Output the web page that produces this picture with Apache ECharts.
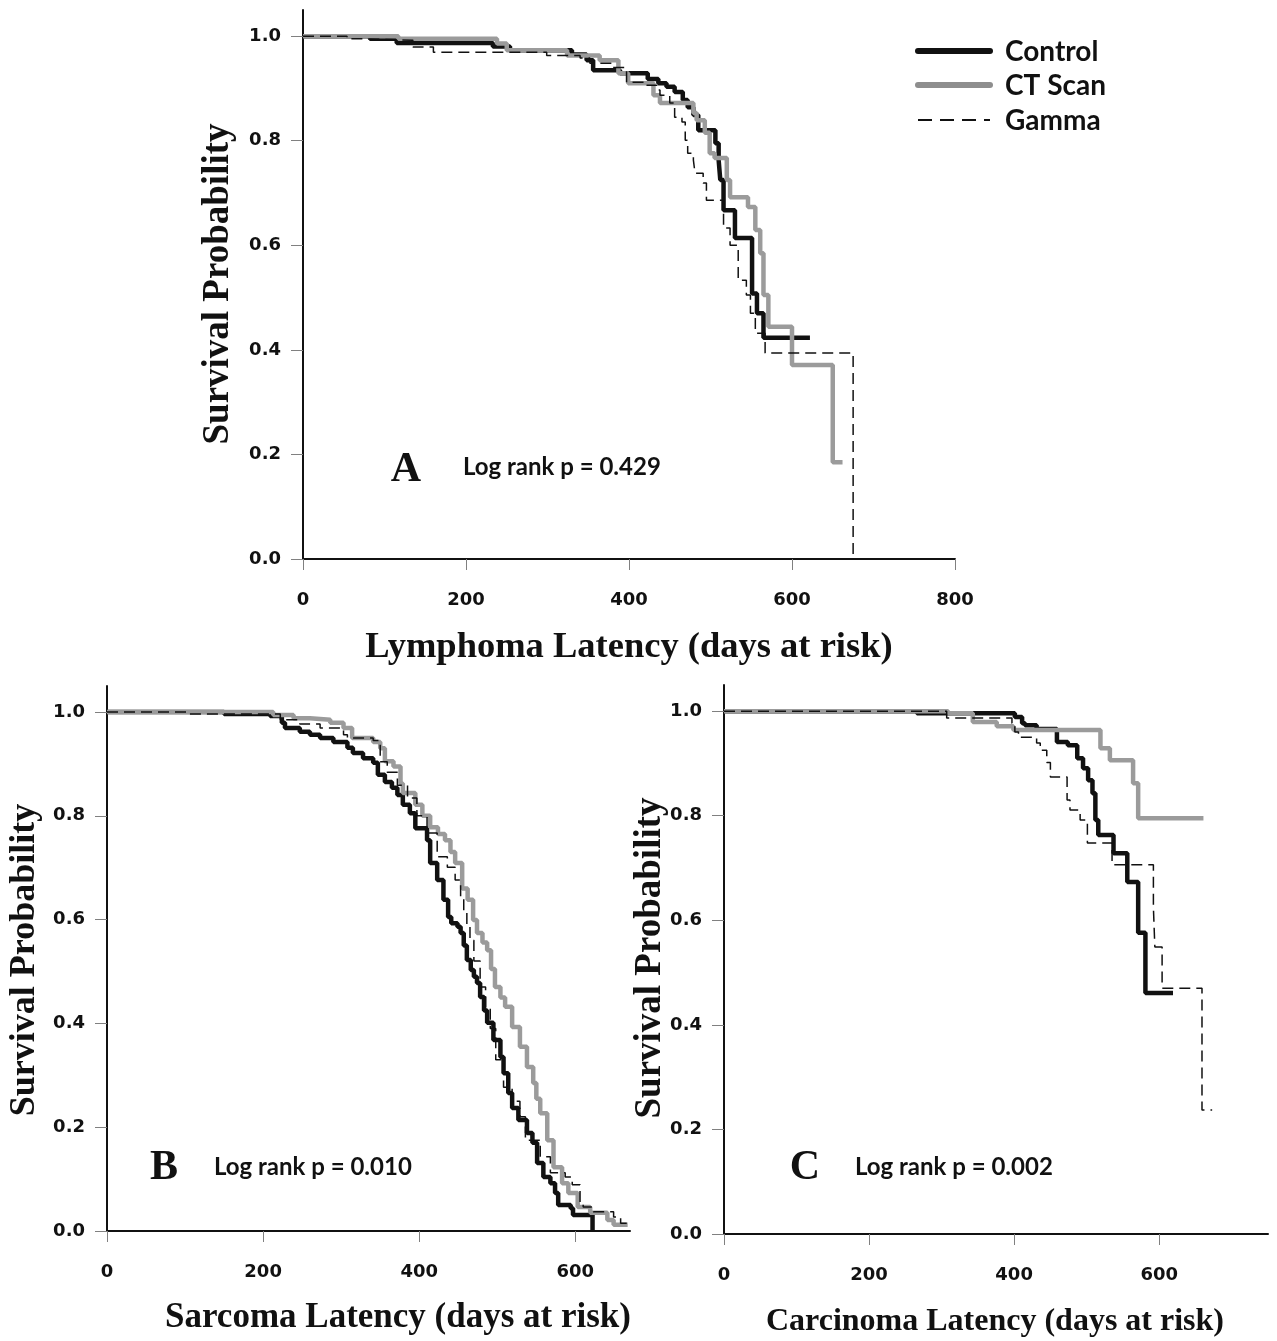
<!DOCTYPE html>
<html>
<head>
<meta charset="utf-8">
<script src="https://cdn.jsdelivr.net/npm/echarts@6/dist/echarts.min.js"></script>
<style>
  html, body { margin: 0; padding: 0; background: #ffffff; }
  #chart { width: 1277px; height: 1341px; }
</style>
</head>
<body>
<div id="chart"></div>
<script>
// Group names and tick values
const groupNames = ['Control', 'CT Scan', 'Gamma'];
const survivalTicks = [0, 0.2, 0.4, 0.6, 0.8, 1.0];
const lymphomaDayTicks = [0, 200, 400, 600, 800];
const otherDayTicks = [0, 200, 400, 600];
const pValues = ['0.429', '0.010', '0.002'];

// A: lymphoma latency (Kaplan-Meier steps: day of event, survival after it)
const lymphControlDays = [0, 82, 115, 233, 254, 330, 348, 356, 389, 423, 436, 446, 456, 466, 472, 479, 485, 506, 510, 512, 516, 530, 551, 557, 565, 622];
const lymphControlSurv = [1, 0.995, 0.987, 0.980, 0.973, 0.965, 0.954, 0.935, 0.929, 0.918, 0.910, 0.903, 0.893, 0.878, 0.864, 0.849, 0.820, 0.795, 0.763, 0.725, 0.667, 0.614, 0.508, 0.470, 0.423, 0.423];
const lymphCtDays = [0, 117, 238, 250, 324, 364, 387, 399, 430, 438, 479, 483, 493, 499, 505, 520, 524, 546, 555, 561, 565, 571, 600, 650, 662];
const lymphCtSurv = [1, 0.995, 0.986, 0.973, 0.963, 0.954, 0.929, 0.910, 0.887, 0.872, 0.853, 0.839, 0.815, 0.776, 0.767, 0.725, 0.692, 0.673, 0.629, 0.585, 0.505, 0.444, 0.371, 0.185, 0.185];
const lymphGammaDays = [0, 54, 70, 135, 160, 299, 340, 352, 380, 397, 422, 434, 438, 450, 456, 465, 469, 472, 479, 481, 491, 495, 516, 524, 534, 544, 549, 555, 567, 675];
const lymphGammaSurv = [1, 0.995, 0.992, 0.979, 0.969, 0.963, 0.958, 0.948, 0.940, 0.912, 0.906, 0.897, 0.887, 0.872, 0.845, 0.836, 0.801, 0.776, 0.763, 0.738, 0.719, 0.686, 0.633, 0.600, 0.533, 0.505, 0.470, 0.432, 0.394, 0];

// B: sarcoma latency
const sarcControlDays = [0, 150, 209, 224, 228, 247, 260, 273, 290, 308, 315, 328, 341, 347, 356, 365, 372, 379, 388, 395, 410, 414, 423, 431, 437, 441, 449, 453, 457, 461, 466, 470, 474, 478, 483, 487, 495, 504, 508, 514, 519, 527, 538, 545, 551, 559, 568, 574, 578, 594, 597, 622];
const sarcControlSurv = [1, 0.996, 0.992, 0.979, 0.969, 0.962, 0.956, 0.950, 0.942, 0.931, 0.921, 0.911, 0.902, 0.879, 0.865, 0.854, 0.840, 0.821, 0.805, 0.776, 0.753, 0.709, 0.676, 0.638, 0.605, 0.593, 0.586, 0.574, 0.550, 0.522, 0.503, 0.490, 0.478, 0.451, 0.425, 0.401, 0.368, 0.335, 0.304, 0.266, 0.237, 0.214, 0.189, 0.170, 0.131, 0.104, 0.092, 0.073, 0.050, 0.044, 0.031, 0];
const sarcCtDays = [0, 213, 239, 260, 286, 303, 314, 341, 350, 356, 367, 376, 379, 395, 404, 414, 424, 433, 440, 446, 455, 462, 469, 474, 481, 487, 492, 497, 504, 510, 519, 529, 538, 546, 550, 555, 564, 572, 583, 591, 603, 619, 641, 649, 667];
const sarcCtSurv = [1, 0.994, 0.988, 0.985, 0.979, 0.969, 0.950, 0.942, 0.930, 0.905, 0.895, 0.862, 0.844, 0.821, 0.800, 0.778, 0.765, 0.753, 0.730, 0.709, 0.660, 0.638, 0.599, 0.574, 0.556, 0.541, 0.505, 0.470, 0.450, 0.432, 0.393, 0.355, 0.316, 0.285, 0.255, 0.227, 0.175, 0.123, 0.092, 0.073, 0.046, 0.035, 0.021, 0.012, 0.012];
const sarcGammaDays = [0, 106, 222, 247, 273, 303, 308, 341, 350, 359, 372, 385, 397, 410, 423, 436, 446, 453, 457, 461, 465, 470, 478, 485, 491, 498, 508, 519, 529, 536, 555, 568, 587, 596, 606, 610, 623, 649, 658, 668];
const sarcGammaSurv = [1, 0.996, 0.985, 0.977, 0.969, 0.956, 0.950, 0.945, 0.904, 0.884, 0.859, 0.834, 0.800, 0.767, 0.721, 0.701, 0.676, 0.644, 0.613, 0.586, 0.560, 0.520, 0.470, 0.430, 0.390, 0.330, 0.277, 0.250, 0.220, 0.175, 0.143, 0.112, 0.104, 0.089, 0.056, 0.046, 0.037, 0.027, 0.015, 0.015];

// C: carcinoma latency
const carcControlDays = [0, 266, 401, 411, 415, 431, 459, 474, 487, 495, 502, 508, 512, 516, 537, 556, 571, 581, 619];
const carcControlSurv = [1, 0.996, 0.989, 0.977, 0.973, 0.966, 0.941, 0.935, 0.910, 0.891, 0.868, 0.843, 0.792, 0.763, 0.728, 0.673, 0.576, 0.461, 0.461];
const carcCtDays = [0, 309, 343, 376, 399, 519, 532, 564, 571, 661];
const carcCtSurv = [1, 0.996, 0.979, 0.971, 0.964, 0.929, 0.906, 0.862, 0.795, 0.795];
const carcGammaDays = [0, 307, 397, 401, 406, 431, 436, 445, 450, 473, 477, 491, 501, 535, 592, 594, 604, 659, 673];
const carcGammaSurv = [1, 0.987, 0.977, 0.960, 0.950, 0.939, 0.925, 0.902, 0.874, 0.830, 0.811, 0.792, 0.748, 0.706, 0.625, 0.549, 0.470, 0.237, 0.237];

const chart = echarts.init(document.getElementById('chart'), null, { renderer: 'canvas' });

const INK = '#111111';
const GREY = '#9b9b9b';
const tickFont = { color: INK, fontFamily: 'DejaVu Sans', fontWeight: 'bold', fontSize: 18 };
const sansBold = 'Lato';
const serif = 'Liberation Serif';

const groupStyles = [
  { color: INK, width: 4.5, type: 'solid' },
  { color: GREY, width: 4.5, type: 'solid' },
  { color: INK, width: 1.5, type: [11, 6] }
];

function dayAxis(gridIndex, max, ticks) {
  return {
    type: 'value', gridIndex: gridIndex, min: 0, max: max,
    axisLine: { show: true, onZero: false, lineStyle: { color: INK, width: 2 } },
    axisTick: { show: true, customValues: ticks, length: 11, lineStyle: { color: '#808080', width: 1 } },
    axisLabel: Object.assign({ customValues: ticks, margin: 32 }, tickFont),
    splitLine: { show: false }
  };
}

function survAxis(gridIndex) {
  return {
    type: 'value', gridIndex: gridIndex, min: 0, max: 1.05,
    axisLine: { show: true, onZero: false, lineStyle: { color: INK, width: 2 } },
    axisTick: { show: true, customValues: survivalTicks, length: 12, lineStyle: { color: '#808080', width: 1 } },
    axisLabel: Object.assign({ customValues: survivalTicks, margin: 22, formatter: v => v.toFixed(1) }, tickFont),
    splitLine: { show: false }
  };
}

function kmSeries(groupIdx, gridIndex, days, surv) {
  const st = groupStyles[groupIdx];
  return {
    name: groupNames[groupIdx], type: 'line', xAxisIndex: gridIndex, yAxisIndex: gridIndex,
    step: 'end', symbol: 'none', showSymbol: false, animation: false, silent: true,
    data: days.map((d, i) => [d, surv[i]]),
    lineStyle: { color: st.color, width: st.width, type: st.type, cap: 'butt' },
    itemStyle: { color: st.color }
  };
}

function text(x, y, str, font, size, opts) {
  return Object.assign({
    type: 'text', x: x, y: y, silent: true,
    style: { text: str, fontFamily: font, fontWeight: 'bold', fontSize: size, fill: INK, align: 'center', verticalAlign: 'middle' }
  }, opts || {});
}

// key for the three groups, drawn in the upper right of panel A
const keyRows = [51, 85, 120];
const keyGraphics = [];
groupNames.forEach((name, i) => {
  const st = groupStyles[i];
  keyGraphics.push({
    type: 'line', silent: true,
    shape: { x1: 918, y1: keyRows[i], x2: 990, y2: keyRows[i] },
    style: { stroke: i === 1 ? '#8e8e8e' : st.color, lineWidth: i === 2 ? 2 : 6, lineDash: i === 2 ? [14, 8] : null, lineCap: i === 2 ? 'butt' : 'round' }
  });
  const t = text(1005, keyRows[i] + 1, name, sansBold, 28);
  t.style.align = 'left';
  keyGraphics.push(t);
});

const logRank = [
  text(463, 467, 'Log rank p = ' + pValues[0], sansBold, 24),
  text(214, 1167, 'Log rank p = ' + pValues[1], sansBold, 24),
  text(855, 1167, 'Log rank p = ' + pValues[2], sansBold, 24)
];
logRank.forEach(g => { g.style.align = 'left'; });

const option = {
  backgroundColor: '#ffffff',
  animation: false,
  grid: [
    { left: 303, top: 10, width: 652, height: 549 },
    { left: 107, top: 686, width: 523, height: 545 },
    { left: 724, top: 685, width: 544, height: 549 }
  ],
  xAxis: [dayAxis(0, 800, lymphomaDayTicks), dayAxis(1, 670, otherDayTicks), dayAxis(2, 750, otherDayTicks)],
  yAxis: [survAxis(0), survAxis(1), survAxis(2)],
  series: [
    kmSeries(0, 0, lymphControlDays, lymphControlSurv),
    kmSeries(1, 0, lymphCtDays, lymphCtSurv),
    kmSeries(2, 0, lymphGammaDays, lymphGammaSurv),
    kmSeries(0, 1, sarcControlDays, sarcControlSurv),
    kmSeries(1, 1, sarcCtDays, sarcCtSurv),
    kmSeries(2, 1, sarcGammaDays, sarcGammaSurv),
    kmSeries(0, 2, carcControlDays, carcControlSurv),
    kmSeries(1, 2, carcCtDays, carcCtSurv),
    kmSeries(2, 2, carcGammaDays, carcGammaSurv)
  ],
  graphic: [
    // axis titles
    text(218, 284, 'Survival Probability', serif, 37, { rotation: Math.PI / 2 }),
    text(25, 960, 'Survival Probability', serif, 36, { rotation: Math.PI / 2 }),
    text(650, 958, 'Survival Probability', serif, 37, { rotation: Math.PI / 2 }),
    text(629, 648, 'Lymphoma Latency (days at risk)', serif, 36.5),
    text(398, 1318, 'Sarcoma Latency (days at risk)', serif, 35),
    text(995, 1322, 'Carcinoma Latency (days at risk)', serif, 32),
    // panel letters
    text(406, 470, 'A', serif, 42),
    text(164, 1168, 'B', serif, 42),
    text(805, 1168, 'C', serif, 42)
  ].concat(logRank, keyGraphics)
};

chart.setOption(option);
</script>
</body>
</html>
